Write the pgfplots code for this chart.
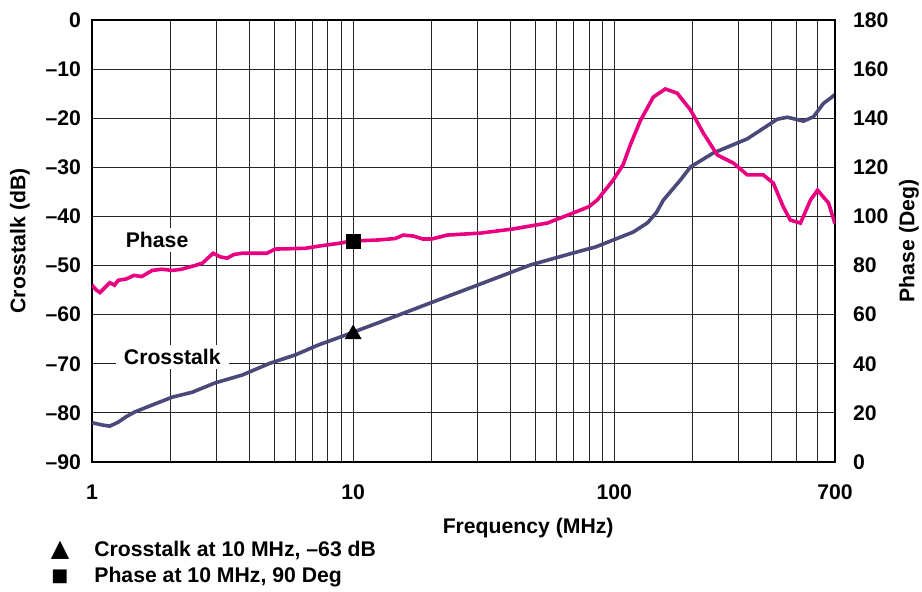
\documentclass[border=0pt]{standalone}
\usepackage{fontspec}
\setmainfont{Liberation Sans}
\newfontfamily\symfont{DejaVu Sans}
\usepackage{pgfplots}
\pgfplotsset{compat=1.18}
\definecolor{xtpurple}{RGB}{75,72,122}
\definecolor{phpink}{RGB}{232,0,128}
\newcommand\lbl{\fontsize{10.6}{12.7}\selectfont\bfseries}
\begin{document}
\begin{tikzpicture}
\begin{axis}[name=main,
  xmode=log, scale only axis, width=371.5pt, height=221pt,
  xmin=1, xmax=700, ymin=-90, ymax=0,
  major tick length=0pt, minor tick length=0pt,
  axis line style={line width=1pt},
  tick label style={font=\lbl},
  label style={font=\lbl},
  xtick={1,10,100,700}, xticklabels={1,10,100,700},
  minor xtick={2,3,4,5,6,7,8,9,20,30,40,50,60,70,80,90,200,300,400,500,600},
  xmajorgrids, xminorgrids, ymajorgrids,
  major grid style={black!85, line width=0.5pt},
  minor grid style={black!85, line width=0.5pt},
  ytick={-90,-80,-70,-60,-50,-40,-30,-20,-10,0},
  yticklabels={–90,–80,–70,–60,–50,–40,–30,–20,–10,0},
  xticklabel style={yshift=-8pt},
  yticklabel style={xshift=-2pt},
  xlabel={Frequency (MHz)},
  xlabel style={at={(axis description cs:0.587,-0.15)}, anchor=center},
  ylabel={Crosstalk (dB)},
  ylabel style={at={(axis description cs:-0.097,0.5)}, anchor=center},
]
% crosstalk curve
\addplot[color=xtpurple, line width=1.8pt] coordinates {
  (1,-82.0) (1.1,-82.5) (1.17,-82.7) (1.26,-81.9) (1.35,-80.8) (1.46,-79.8)
  (1.7,-78.4) (2.03,-76.8) (2.42,-75.8) (2.96,-73.9) (3.76,-72.3) (4.8,-69.9)
  (6.0,-68.2) (7.34,-66.2) (9.31,-64.2) (13.3,-61.1) (19.8,-57.6) (29.9,-54.0)
  (47.6,-49.9) (69,-47.5) (85,-46.2) (99,-44.8) (118,-43.2) (134,-41.3)
  (145,-39.2) (154,-36.7) (179,-32.6) (196,-29.9) (239,-27.1) (323,-24.2)
  (421,-20.2) (460,-19.8) (530,-20.6) (579,-19.7) (632,-17.0) (700,-15.2)
};
\addplot[only marks, mark=triangle*, mark size=4.5pt, black] coordinates {(10,-64)};
\node[fill=white, inner xsep=4pt, inner ysep=2pt, font=\lbl] at (axis cs:1.775,-44.8) {Phase};
\node[fill=white, inner xsep=4pt, inner ysep=2pt, font=\lbl] at (axis cs:2.03,-68.6) {Crosstalk};
\end{axis}
\begin{axis}[
  xmode=log, scale only axis, width=371.5pt, height=221pt,
  xmin=1, xmax=700, ymin=0, ymax=180,
  major tick length=0pt, minor tick length=0pt,
  axis line style={line width=1pt},
  tick label style={font=\lbl},
  label style={font=\lbl},
  hide x axis, axis y line*=right,
  ytick={0,20,40,60,80,100,120,140,160,180},
  yticklabels={0,20,40,60,80,100,120,140,160,180},
  yticklabel style={xshift=5.5pt},
  ylabel={Phase (Deg)},
  ylabel style={at={(axis description cs:1.0996,0.5)}, anchor=center},
]
% phase curve
\addplot[color=phpink, line width=1.8pt] coordinates {
  (1,72) (1.04,70) (1.073,69) (1.12,71) (1.17,73) (1.22,72) (1.26,74)
  (1.35,74.5) (1.45,76) (1.55,75.5) (1.7,78) (1.85,78.5) (2.03,78) (2.2,78.5)
  (2.48,80) (2.65,81) (2.91,85) (3.1,83.5) (3.29,83) (3.5,84.5) (3.76,85)
  (4.2,85) (4.68,85) (5.02,86.7) (6.55,87) (7.5,88) (8.76,89) (9.9,90)
  (12.47,90.4) (14.5,91) (15.55,92.4) (17,92) (18.5,90.8) (20,90.8)
  (22.9,92.4) (30.7,93.2) (41,94.9) (55.4,97.3) (69.6,101.4) (80,104)
  (86.1,106.7) (99,114.8) (108,121) (115,129) (125.8,139) (141,148.6)
  (156.8,151.9) (174,150.2) (196,143.3) (219,134) (248,125) (286,121.7)
  (323,116.9) (372,116.9) (406,113.6) (444,103.8) (472,98.5) (516,97.3)
  (564,106.7) (600,110.7) (661,105.5) (700,97)
};
\addplot[only marks, mark=square*, mark size=3.5pt, black] coordinates {(10,90)};
\end{axis}
\node at ([shift={(-16pt,-44pt)}]main.south west) {\symfont\large ▲};
\node[anchor=west, inner sep=0pt, font=\lbl] at ([shift={(1pt,-44pt)}]main.south west) {Crosstalk at 10 MHz, –63 dB};
\node at ([shift={(-16pt,-57.5pt)}]main.south west) {\symfont\small ■};
\node[anchor=west, inner sep=0pt, font=\lbl] at ([shift={(1pt,-57.5pt)}]main.south west) {Phase at 10 MHz, 90 Deg};
\pgfresetboundingbox
\path[use as bounding box] ([shift={(-46pt,-65pt)}]main.south west) rectangle ([shift={(43.5pt,10pt)}]main.north east);
\end{tikzpicture}
\end{document}
